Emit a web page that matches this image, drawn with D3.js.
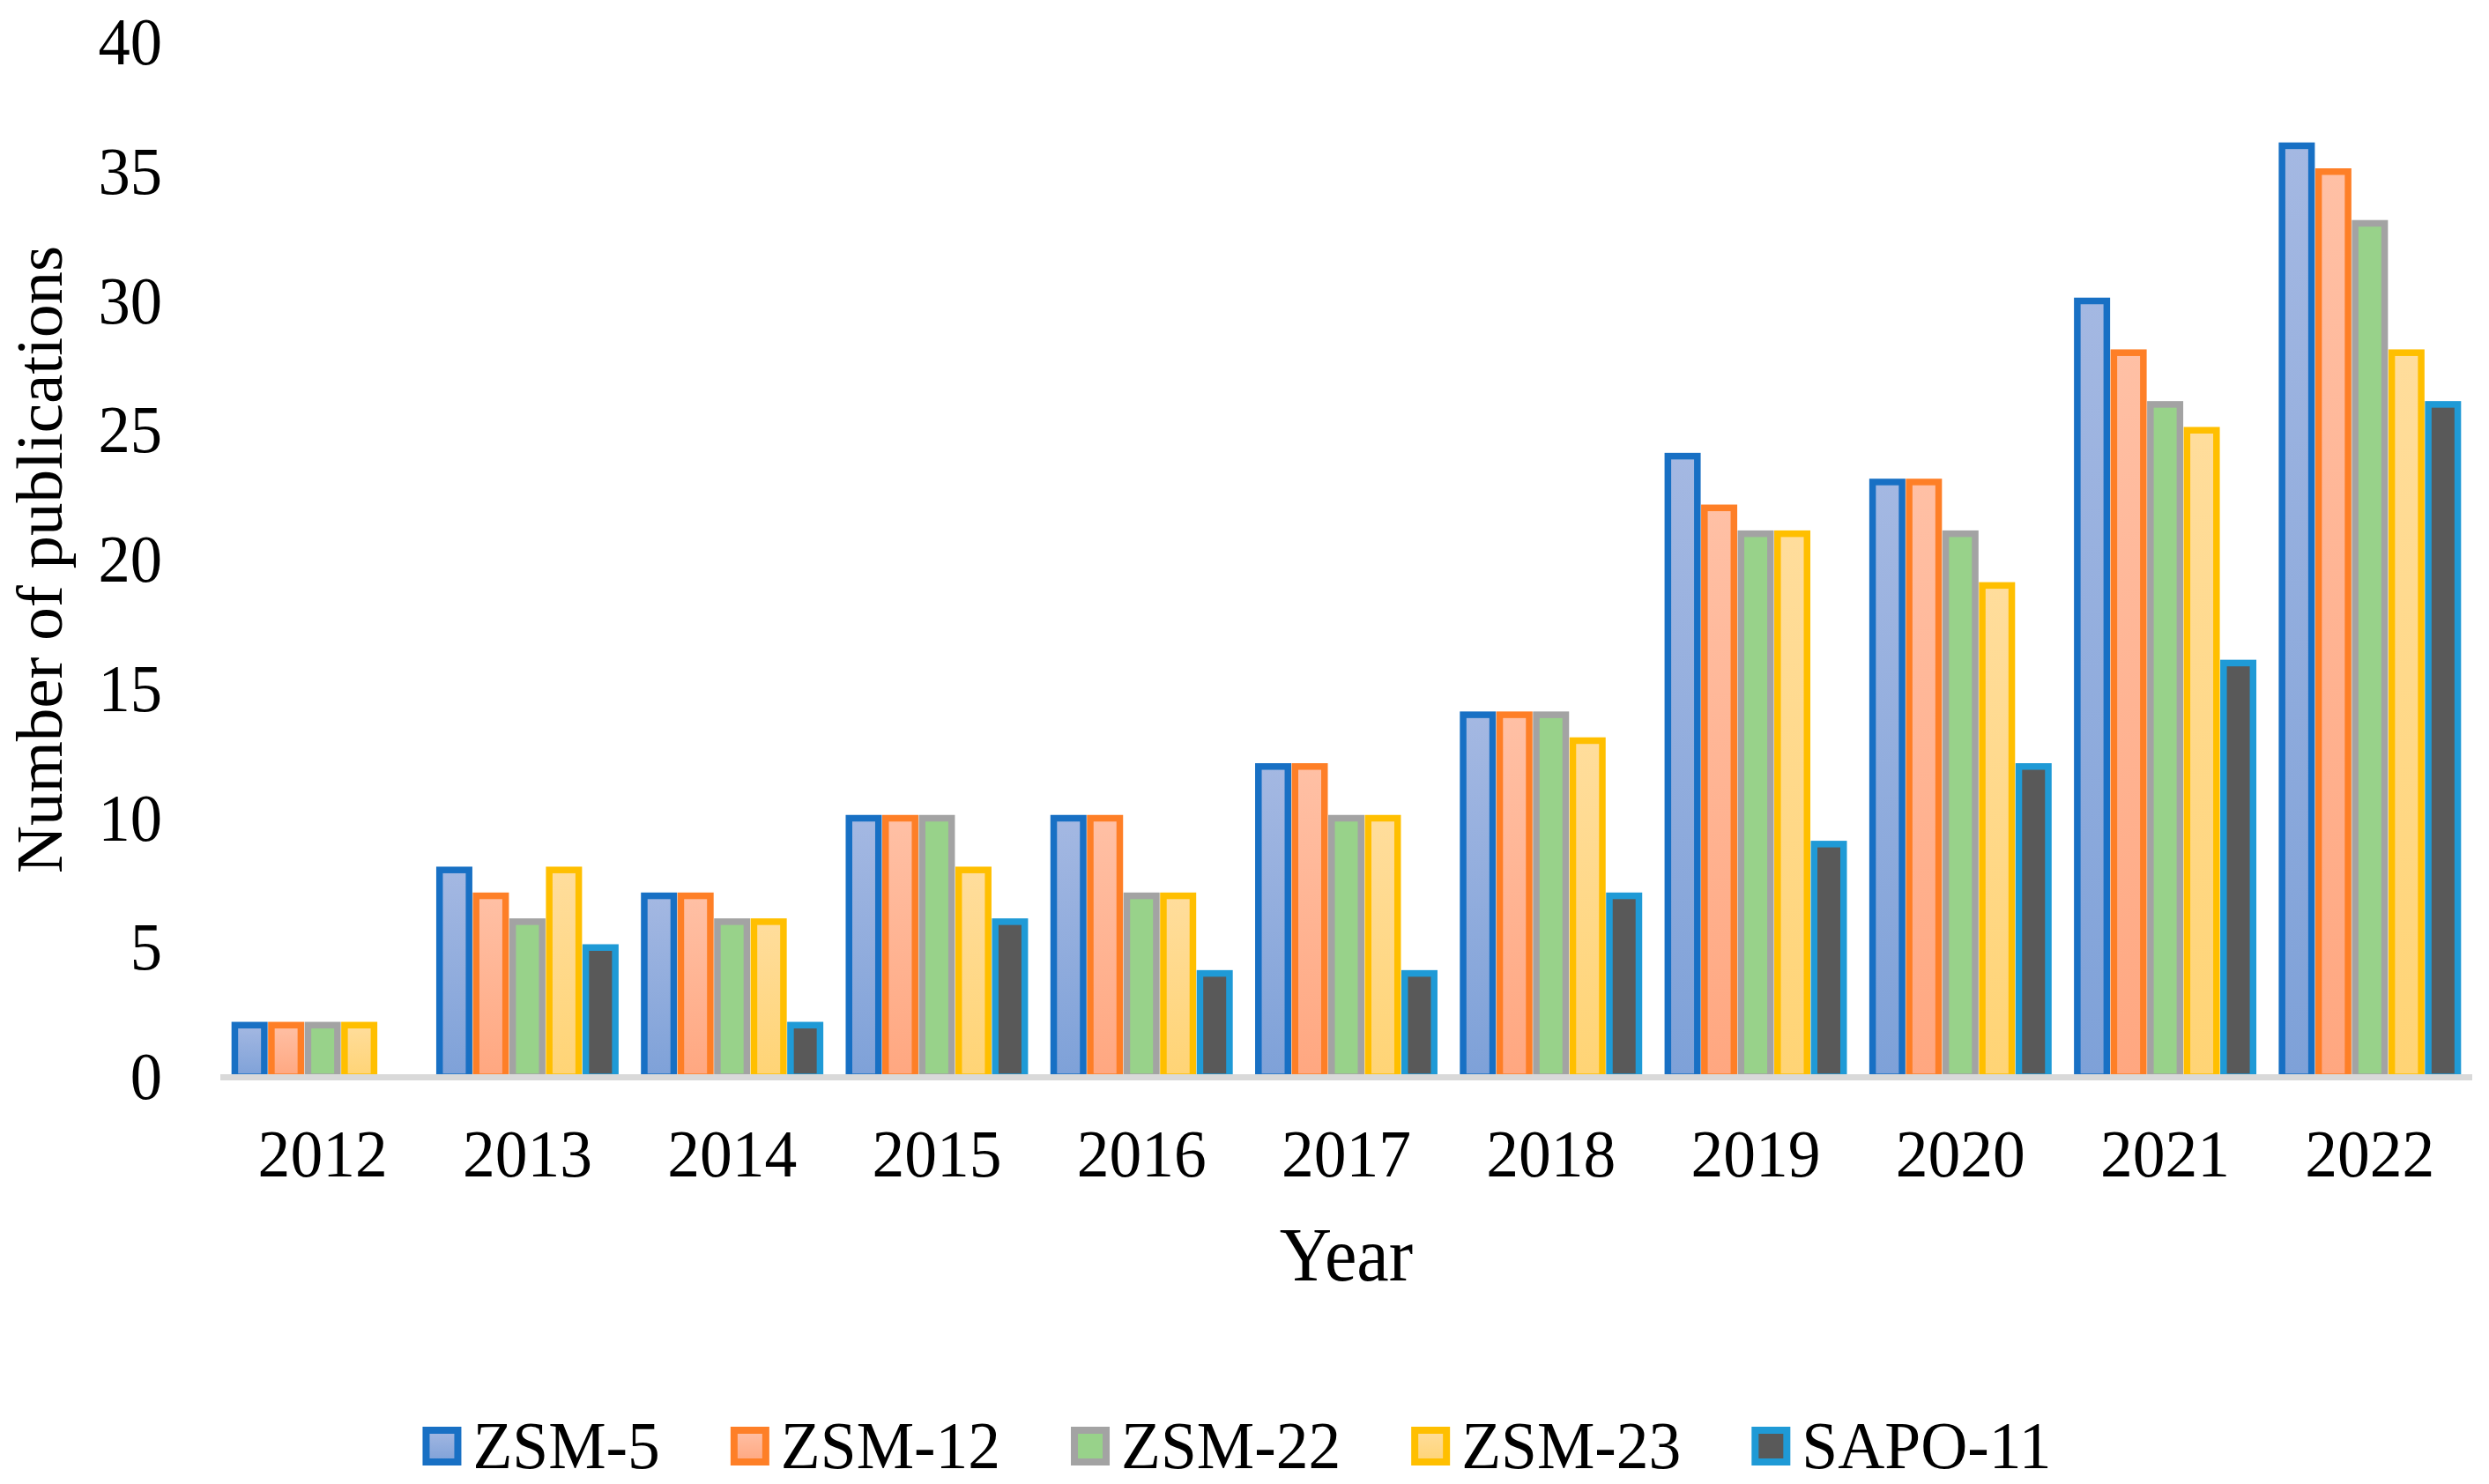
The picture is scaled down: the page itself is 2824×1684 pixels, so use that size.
<!DOCTYPE html>
<html>
<head>
<meta charset="utf-8">
<script src="https://cdn.jsdelivr.net/npm/d3@7"></script>
<style>
  html, body { margin: 0; padding: 0; background: #fff; }
  svg { display: block; font-family: "Liberation Serif", "Times New Roman", serif; }
</style>
</head>
<body>
<svg id="chart"></svg>
<script>
const width = 2824
const height = 1684
const marginLeft = 250
const marginRight = 19
const yTop = 48
const yBottom = 1222
const squeeze = 0.955   // the reference glyphs are a little narrow

const years = ["2012", "2013", "2014", "2015", "2016", "2017", "2018", "2019", "2020", "2021", "2022"]
const seriesNames = ["ZSM-5", "ZSM-12", "ZSM-22", "ZSM-23", "SAPO-11"]
const zsm5 = [2, 8, 7, 10, 10, 12, 14, 24, 23, 30, 36]
const zsm12 = [2, 7, 7, 10, 10, 12, 14, 22, 23, 28, 35]
const zsm22 = [2, 6, 6, 10, 7, 10, 14, 21, 21, 26, 33]
const zsm23 = [2, 8, 6, 8, 7, 10, 13, 21, 19, 25, 28]
const sapo11 = [0, 5, 2, 6, 4, 4, 7, 9, 12, 16, 26]
const yTicks = [0, 5, 10, 15, 20, 25, 30, 35, 40]

const seriesValues = [zsm5, zsm12, zsm22, zsm23, sapo11]
const strokeColors = ["#1870c4", "#fe7f27", "#a3a3a3", "#ffbf00", "#1f9ad6"]
const fillTop = ["#a4b8e2", "#ffc0a5", "#98d28a", "#ffdd9c", "#595959"]
const fillBottom = ["#7ea1d8", "#ffa780", "#98d28a", "#ffd475", "#595959"]
const strokeW = 7.5

const dataset = years.map((y, i) => {
    const row = { year: y }
    seriesNames.forEach((s, j) => { row[s] = seriesValues[j][i] })
    return row
})

const svg = d3.select("#chart")
    .attr("width", width)
    .attr("height", height)

const defs = svg.append("defs")
seriesNames.forEach((s, j) => {
    const g = defs.append("linearGradient")
        .attr("id", "grad" + j)
        .attr("x1", 0).attr("y1", 0)
        .attr("x2", 0).attr("y2", 1)
    g.append("stop").attr("offset", "0%").attr("stop-color", fillTop[j])
    g.append("stop").attr("offset", "100%").attr("stop-color", fillBottom[j])
})

const x0 = d3.scaleBand()
    .domain(years)
    .range([marginLeft, width - marginRight])
    .paddingInner(0.107)
    .paddingOuter(0.0535)

const x1 = d3.scaleBand()
    .domain(seriesNames)
    .range([0, x0.bandwidth()])

const y = d3.scaleLinear()
    .domain([0, 40])
    .range([yBottom, yTop])

// bars
const groups = svg.append("g")
    .selectAll("g")
    .data(dataset)
    .enter()
    .append("g")
    .attr("transform", d => `translate(${x0(d.year)}, 0)`)

groups.selectAll("rect")
    .data(d => seriesNames.map((s, j) => ({ key: s, idx: j, value: d[s] })).filter(d => d.value > 0))
    .enter()
    .append("rect")
    .attr("x", d => x1(d.key) + 4)
    .attr("width", x1.bandwidth() - 8)
    .attr("y", d => y(d.value))
    .attr("height", d => y(0) - y(d.value))
    .style("fill", d => `url(#grad${d.idx})`)
    .style("stroke", d => strokeColors[d.idx])
    .style("stroke-width", strokeW)

// x axis line
svg.append("line")
    .attr("x1", marginLeft)
    .attr("x2", width - marginRight)
    .attr("y1", 1222.5)
    .attr("y2", 1222.5)
    .style("stroke", "#d9d9d9")
    .style("stroke-width", 7)

// x tick labels
svg.append("g")
    .selectAll("text")
    .data(years)
    .enter()
    .append("text")
    .attr("transform", d => `translate(${x0(d) + x0.bandwidth() / 2}, 1335) scale(${squeeze}, 1)`)
    .attr("text-anchor", "middle")
    .style("font-size", "77px")
    .text(d => d)

// y tick labels
svg.append("g")
    .selectAll("text")
    .data(yTicks)
    .enter()
    .append("text")
    .attr("transform", d => `translate(184, ${y(d)}) scale(${squeeze}, 1)`)
    .attr("dy", "0.33em")
    .attr("text-anchor", "end")
    .style("font-size", "76px")
    .text(d => d)

// axis titles
svg.append("text")
    .attr("transform", `translate(${(marginLeft + width - marginRight) / 2}, 1453) scale(${squeeze}, 1)`)
    .attr("text-anchor", "middle")
    .style("font-size", "86px")
    .text("Year")

svg.append("text")
    .attr("transform", `translate(70, ${(yTop + yBottom) / 2}) rotate(-90)`)
    .attr("text-anchor", "middle")
    .style("font-size", "75px")
    .text("Number of publications")

// legend
const legend = svg.append("g").attr("id", "legend")
const items = legend.selectAll("g")
    .data(seriesNames)
    .enter()
    .append("g")

items.append("rect")
    .attr("x", 4)
    .attr("y", 1623)
    .attr("width", 36)
    .attr("height", 36)
    .style("fill", (d, i) => `url(#grad${i})`)
    .style("stroke", (d, i) => strokeColors[i])
    .style("stroke-width", 8)

items.append("text")
    .attr("transform", `translate(57, 1666) scale(${squeeze}, 1)`)
    .style("font-size", "77px")
    .text(d => d)

const lens = []
items.select("text").each(function() { lens.push(this.getComputedTextLength() * squeeze) })
const gap = 80
const total = d3.sum(lens, l => 57 + l) + gap * (lens.length - 1)
let cursor = 1403.5 - total / 2
items.attr("transform", (d, i) => {
    const tx = cursor
    cursor += 57 + lens[i] + gap
    return `translate(${tx}, 0)`
})
</script>
</body>
</html>
